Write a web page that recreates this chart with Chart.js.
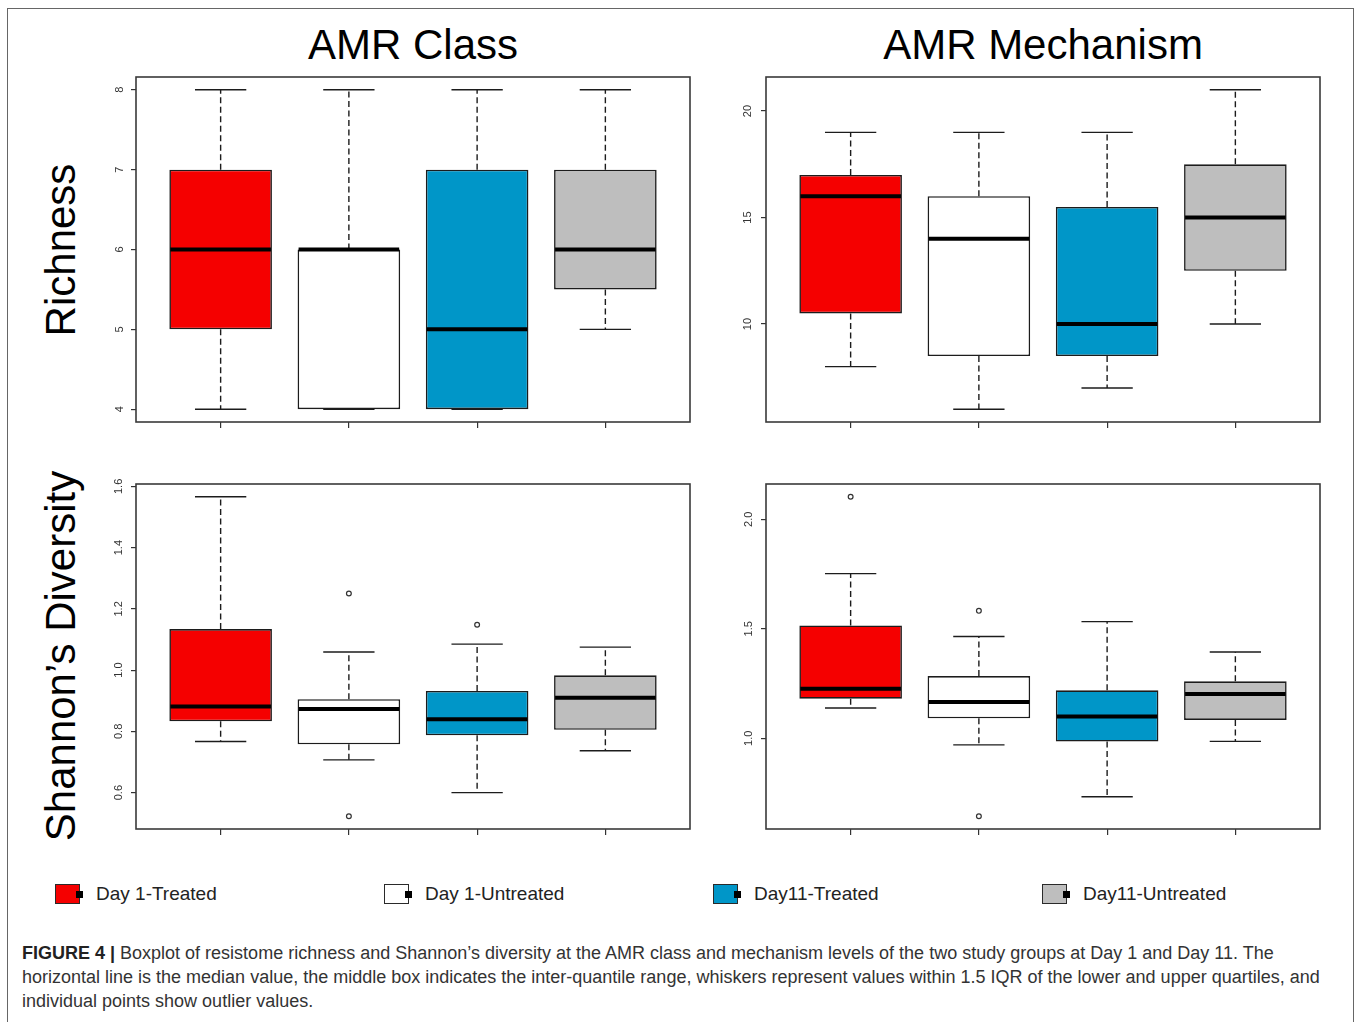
<!DOCTYPE html>
<html>
<head>
<meta charset="utf-8">
<title>Resistome richness and Shannon's diversity</title>
<script src="https://cdn.jsdelivr.net/npm/chart.js@4.4.1/dist/chart.umd.min.js"></script>
<style>
  html, body { margin: 0; padding: 0; background: #fff; }
  body { width: 1360px; height: 1022px; position: relative; overflow: hidden;
         font-family: "Liberation Sans", Arial, Helvetica, sans-serif; color: #111; }
  .frame { position: absolute; left: 7px; top: 8px; width: 1347px; height: 1100px;
           border: 1.5px solid #666; box-sizing: border-box; }
  .panel { position: absolute; }
  .title { position: absolute; font-size: 42px; line-height: 42px; white-space: nowrap;
           transform: translateX(-50%); color: #000; }
  .ylab { position: absolute; font-size: 42px; line-height: 42px; white-space: nowrap; color: #000;
          transform: translate(-50%, -50%) rotate(-90deg); }
  .legend-item { position: absolute; top: 883px; height: 22px; display: flex; align-items: center; }
  .swatch { position: relative; width: 25px; height: 20px; box-sizing: border-box;
            border: 1.5px solid #2a2a2a; margin-right: 16px; }
  .swatch::after { content: ""; position: absolute; right: -4px; top: 5.5px; width: 7px; height: 7px; background: #000; }
  .legend-text { font-size: 19px; color: #222; }
  .caption { position: absolute; left: 22px; top: 941px; font-size: 18px; line-height: 24px;
             color: #333; white-space: nowrap; }
  .caption b { color: #222; }
</style>
</head>
<body>
<div class="frame"></div>

<div class="title" style="left:413px; top:24px;">AMR Class</div>
<div class="title" style="left:1043px; top:24px;">AMR Mechanism</div>
<div class="ylab" style="left:61px; top:250px;">Richness</div>
<div class="ylab" style="left:61px; top:656px;">Shannon’s Diversity</div>

<canvas id="classRichness" class="panel"></canvas>
<canvas id="mechRichness" class="panel"></canvas>
<canvas id="classShannon" class="panel"></canvas>
<canvas id="mechShannon" class="panel"></canvas>

<div id="legend"></div>

<div class="caption"><b>FIGURE 4 |</b> Boxplot of resistome richness and Shannon’s diversity at the AMR class and mechanism levels of the two study groups at Day 1 and Day 11. The<br>horizontal line is the median value, the middle box indicates the inter-quantile range, whiskers represent values within 1.5 IQR of the lower and upper quartiles, and<br>individual points show outlier values.</div>

<script>
// Study groups, in plotting order
const groups = ['Day 1-Treated', 'Day 1-Untreated', 'Day11-Treated', 'Day11-Untreated'];
const groupFill = ['#f50000', '#ffffff', '#0096c8', '#bebebe'];

// AMR class – richness
const classRichMin = [4, 4, 4, 5];
const classRichQ1  = [5, 4, 4, 5.5];
const classRichMed = [6, 6, 5, 6];
const classRichQ3  = [7, 6, 7, 7];
const classRichMax = [8, 8, 8, 8];
const classRichOutGroup = [];
const classRichOutValue = [];
const classRichTicks = ['4', '5', '6', '7', '8'];

// AMR mechanism – richness
const mechRichMin = [8, 6, 7, 10];
const mechRichQ1  = [10.5, 8.5, 8.5, 12.5];
const mechRichMed = [16, 14, 10, 15];
const mechRichQ3  = [17, 16, 15.5, 17.5];
const mechRichMax = [19, 19, 19, 21];
const mechRichOutGroup = [];
const mechRichOutValue = [];
const mechRichTicks = ['10', '15', '20'];

// AMR class – Shannon's diversity
const classShanMin = [0.767, 0.707, 0.600, 0.737];
const classShanQ1  = [0.833, 0.758, 0.787, 0.805];
const classShanMed = [0.881, 0.873, 0.840, 0.910];
const classShanQ3  = [1.134, 0.905, 0.932, 0.983];
const classShanMax = [1.566, 1.059, 1.085, 1.075];
const classShanOutGroup = [2, 2, 3];
const classShanOutValue = [1.250, 0.523, 1.148];
const classShanTicks = ['0.6', '0.8', '1.0', '1.2', '1.4', '1.6'];

// AMR mechanism – Shannon's diversity
const mechShanMin = [1.138, 0.970, 0.733, 0.986];
const mechShanQ1  = [1.181, 1.091, 0.985, 1.084];
const mechShanMed = [1.226, 1.166, 1.099, 1.202];
const mechShanQ3  = [1.515, 1.284, 1.219, 1.260];
const mechShanMax = [1.752, 1.465, 1.533, 1.394];
const mechShanOutGroup = [1, 2, 2];
const mechShanOutValue = [2.103, 1.582, 0.644];
const mechShanTicks = ['1.0', '1.5', '2.0'];

const FONT = '"Liberation Sans", Arial, Helvetica, sans-serif';
const INK = '#1c1c1c';

// whiskers, caps and medians drawn around the floating-bar boxes
const boxParts = {
  id: 'boxParts',
  beforeDatasetsDraw(chart, args, opts) {
    const x = chart.scales.x, y = chart.scales.y, ctx = chart.ctx;
    ctx.save();
    ctx.strokeStyle = INK;
    ctx.lineWidth = 1.4;
    opts.lo.forEach((lo, i) => {
      const c = x.getPixelForValue(i + 1);
      const capL = x.getPixelForValue(i + 1 - 0.2), capR = x.getPixelForValue(i + 1 + 0.2);
      const pLo = y.getPixelForValue(lo), pHi = y.getPixelForValue(opts.hi[i]);
      const pQ1 = y.getPixelForValue(opts.q1[i]), pQ3 = y.getPixelForValue(opts.q3[i]);
      ctx.setLineDash([6, 3.5]);
      ctx.beginPath();
      ctx.moveTo(c, pQ3); ctx.lineTo(c, pHi);
      ctx.moveTo(c, pQ1); ctx.lineTo(c, pLo);
      ctx.stroke();
      ctx.setLineDash([]);
      ctx.beginPath();
      ctx.moveTo(capL, pHi); ctx.lineTo(capR, pHi);
      ctx.moveTo(capL, pLo); ctx.lineTo(capR, pLo);
      ctx.stroke();
    });
    ctx.restore();
  },
  afterDatasetsDraw(chart, args, opts) {
    const x = chart.scales.x, y = chart.scales.y, ctx = chart.ctx;
    ctx.save();
    ctx.strokeStyle = '#000';
    ctx.lineWidth = 4;
    opts.mid.forEach((m, i) => {
      const l = x.getPixelForValue(i + 1 - 0.4), r = x.getPixelForValue(i + 1 + 0.4);
      const p = y.getPixelForValue(m);
      ctx.beginPath(); ctx.moveTo(l + 1, p); ctx.lineTo(r - 1, p); ctx.stroke();
    });
    ctx.restore();
  },
  afterDraw(chart) {
    const a = chart.chartArea, ctx = chart.ctx;
    ctx.save();
    ctx.strokeStyle = '#3a3a3a';
    ctx.lineWidth = 1.6;
    ctx.strokeRect(a.left, a.top, a.right - a.left, a.bottom - a.top);
    ctx.restore();
  }
};

// R-style axis range: data extent padded by 4 % on each side
function paddedRange(values) {
  const lo = Math.min(...values), hi = Math.max(...values);
  const pad = (hi - lo) * 0.04;
  return [lo - pad, hi + pad];
}

function boxChart(id, area, s, tickLabels, tickPad) {
  const padTop = 6, padRight = 6, axisW = 40, axisH = 20;
  const canvas = document.getElementById(id);
  const w = area.right - area.left, h = area.bottom - area.top;
  canvas.width = w + axisW + padRight;
  canvas.height = h + padTop + axisH;
  canvas.style.left = (area.left - axisW) + 'px';
  canvas.style.top = (area.top - padTop) + 'px';

  const [yMin, yMax] = paddedRange([...s.lo, ...s.hi, ...s.outV]);
  const tickValues = tickLabels.map(Number);

  return new Chart(canvas, {
    type: 'bar',
    data: {
      datasets: [
        {
          type: 'bar',
          data: s.q1.map((v, i) => ({ x: i + 1, y: [v, s.q3[i]] })),
          backgroundColor: groupFill,
          borderColor: INK,
          borderWidth: 1.6,
          borderSkipped: false,
          barPercentage: 0.8,
          categoryPercentage: 1
        },
        {
          type: 'scatter',
          data: s.outG.map((g, i) => ({ x: g, y: s.outV[i] })),
          pointStyle: 'circle',
          pointRadius: 2.4,
          borderColor: '#333',
          backgroundColor: 'rgba(255,255,255,0)',
          borderWidth: 1.2
        }
      ]
    },
    options: {
      responsive: false,
      animation: false,
      events: [],
      layout: { padding: { top: padTop, right: padRight, left: 0, bottom: 0 } },
      plugins: {
        legend: { display: false },
        tooltip: { enabled: false },
        boxParts: { lo: s.lo, hi: s.hi, q1: s.q1, q3: s.q3, mid: s.med }
      },
      scales: {
        x: {
          type: 'linear',
          min: 0.34,
          max: 4.66,
          offset: false,
          afterBuildTicks: sc => { sc.ticks = groups.map((g, i) => ({ value: i + 1 })); },
          ticks: { display: false },
          grid: { offset: false, drawOnChartArea: false, drawTicks: true, tickLength: 6, color: '#333', lineWidth: 1.2 },
          border: { display: false },
          afterFit: sc => { sc.height = axisH; sc.paddingLeft = 0; sc.paddingRight = 0; }
        },
        y: {
          type: 'linear',
          min: yMin,
          max: yMax,
          afterBuildTicks: sc => { sc.ticks = tickValues.map(v => ({ value: v })); },
          ticks: {
            callback: (v, i) => tickLabels[i],
            minRotation: 90,
            maxRotation: 90,
            crossAlign: 'center',
            padding: tickPad,
            color: '#333',
            font: { family: FONT, size: 11 }
          },
          grid: { drawOnChartArea: false, drawTicks: true, tickLength: 5, color: '#333', lineWidth: 1.2 },
          border: { display: false },
          afterFit: sc => { sc.width = axisW; sc.paddingTop = 0; sc.paddingBottom = 0; }
        }
      }
    },
    plugins: [boxParts]
  });
}

boxChart('classRichness', { left: 136, top: 77, right: 690, bottom: 422 },
  { lo: classRichMin, q1: classRichQ1, med: classRichMed, q3: classRichQ3, hi: classRichMax,
    outG: classRichOutGroup, outV: classRichOutValue }, classRichTicks, 8);

boxChart('mechRichness', { left: 766, top: 77, right: 1320, bottom: 422 },
  { lo: mechRichMin, q1: mechRichQ1, med: mechRichMed, q3: mechRichQ3, hi: mechRichMax,
    outG: mechRichOutGroup, outV: mechRichOutValue }, mechRichTicks, 7);

boxChart('classShannon', { left: 136, top: 484, right: 690, bottom: 829 },
  { lo: classShanMin, q1: classShanQ1, med: classShanMed, q3: classShanQ3, hi: classShanMax,
    outG: classShanOutGroup, outV: classShanOutValue }, classShanTicks, 4);

boxChart('mechShannon', { left: 766, top: 484, right: 1320, bottom: 829 },
  { lo: mechShanMin, q1: mechShanQ1, med: mechShanMed, q3: mechShanQ3, hi: mechShanMax,
    outG: mechShanOutGroup, outV: mechShanOutValue }, mechShanTicks, 4);

// legend row
const legendX = [55, 384, 713, 1042];
const legend = document.getElementById('legend');
groups.forEach((g, i) => {
  const item = document.createElement('div');
  item.className = 'legend-item';
  item.style.left = legendX[i] + 'px';
  const sw = document.createElement('span');
  sw.className = 'swatch';
  sw.style.background = groupFill[i];
  const tx = document.createElement('span');
  tx.className = 'legend-text';
  tx.textContent = g;
  item.appendChild(sw);
  item.appendChild(tx);
  legend.appendChild(item);
});
</script>
</body>
</html>
